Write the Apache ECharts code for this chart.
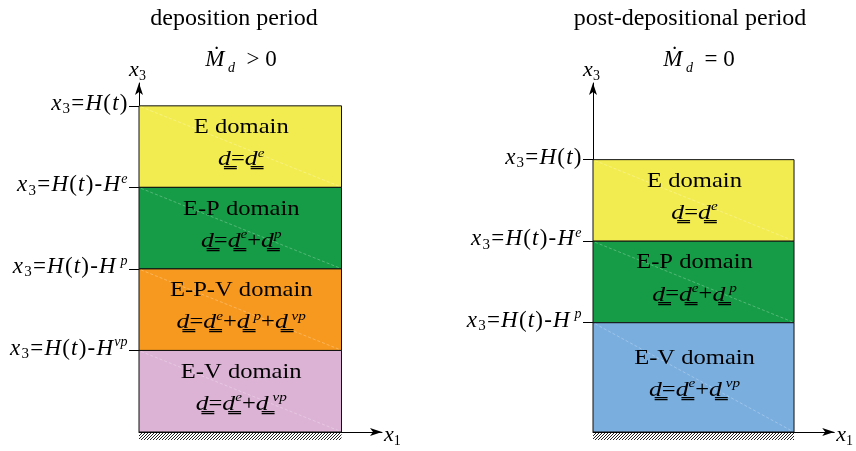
<!DOCTYPE html>
<html><head><meta charset="utf-8">
<script src="https://cdn.jsdelivr.net/npm/echarts@6/dist/echarts.min.js"></script>
<style>html,body{margin:0;padding:0;background:#fff}#c{width:856px;height:451px}</style>
</head><body><div id="c"></div>
<script>
// ---------- data ----------
const panelTitles = ['deposition period', 'post-depositional period'];
const panelRates = ['{i|M\u0307}{sub| d}{n|  > 0}', '{i|M\u0307}{sub| d}{n|  = 0}'];

const leftDomains = ['E domain', 'E-P domain', 'E-P-V domain', 'E-V domain'];
const leftFormulas = [
  '{d|d\u0333}{n|=}{d|d\u0333}{sup|e}',
  '{d|d\u0333}{n|=}{d|d\u0333}{sup|e}{n|+}{d|d\u0333}{sup|p}',
  '{d|d\u0333}{n|=}{d|d\u0333}{sup|e}{n|+}{d|d\u0333}{sup| p}{n|+}{d|d\u0333}{sup| vp}',
  '{d|d\u0333}{n|=}{d|d\u0333}{sup|e}{n|+}{d|d\u0333}{sup| vp}'
];
const leftTops = [4, 3, 2, 1];
const leftBottoms = [3, 2, 1, 0];
const leftTickValues = [4, 3, 2, 1];
const leftTickLabels = [
  '{i|x}{sub|3}{n|=}{i|H}{n|(}{i|t}{n|)}',
  '{i|x}{sub|3}{n|=}{i|H}{n|(}{i|t}{n|)}{n|-}{i|H}{sup|e}',
  '{i|x}{sub|3}{n|=}{i|H}{n|(}{i|t}{n|)}{n|-}{i|H}{sup| p}',
  '{i|x}{sub|3}{n|=}{i|H}{n|(}{i|t}{n|)}{n|-}{i|H}{sup|vp}'
];

const rightDomains = ['E domain', 'E-P domain', 'E-V domain'];
const rightFormulas = [
  '{d|d\u0333}{n|=}{d|d\u0333}{sup|e}',
  '{d|d\u0333}{n|=}{d|d\u0333}{sup|e}{n|+}{d|d\u0333}{sup| p}',
  '{d|d\u0333}{n|=}{d|d\u0333}{sup|e}{n|+}{d|d\u0333}{sup| vp}'
];
const rightTops = [3.34, 2.34, 1.34];
const rightBottoms = [2.34, 1.34, 0];
const rightTickValues = [3.34, 2.34, 1.34];
const rightTickLabels = [
  '{i|x}{sub|3}{n|=}{i|H}{n|(}{i|t}{n|)}',
  '{i|x}{sub|3}{n|=}{i|H}{n|(}{i|t}{n|)}{n|-}{i|H}{sup|e}',
  '{i|x}{sub|3}{n|=}{i|H}{n|(}{i|t}{n|)}{n|-}{i|H}{sup| p}'
];

const domainWidth = [0, 1];
const axisMaxX = 1.2;
const axisMaxY = 4.28;

// ---------- styles ----------
const leftColors = ['#F3EC51', '#169C46', '#F7991F', '#DCB3D5'];
const rightColors = ['#F3EC51', '#169C46', '#7AAEDF'];
const SERIF = 'Liberation Serif';

function makeRich(base, padX) {
  const pad = [0, padX || 0, 0, padX || 0];
  return {
    n: {fontFamily: SERIF, fontSize: base, fontWeight: 'normal', lineHeight: 26, padding: pad, color: '#000'},
    i: {fontFamily: SERIF, fontSize: base, fontStyle: 'italic', fontWeight: 'normal', lineHeight: 26, padding: pad, color: '#000'},
    sub: {fontFamily: SERIF, fontSize: Math.round(base * 0.65), fontWeight: 'normal', lineHeight: 26, verticalAlign: 'bottom', padding: pad, color: '#000'},
    sup: {fontFamily: SERIF, fontSize: Math.round(base * 0.62), fontStyle: 'italic', fontWeight: 'normal', lineHeight: 26, verticalAlign: 'top', padding: pad, color: '#000'},
    d: {fontFamily: SERIF, fontSize: base + 1, fontStyle: 'italic', fontWeight: 'normal', lineHeight: 26, color: '#000'},
    name: {fontFamily: SERIF, fontSize: base, fontWeight: 'normal', lineHeight: 26, color: '#000'}
  };
}
const axisRich = makeRich(23, 0.6);
const domainRich = makeRich(21);
const titleRich = makeRich(23);
titleRich.sub = {fontFamily: SERIF, fontSize: 14, fontStyle: 'italic', fontWeight: 'normal', lineHeight: 30, verticalAlign: 'bottom', color: '#000'};
titleRich.i.lineHeight = 30; titleRich.n.lineHeight = 30;
const nameRich = makeRich(22);

function lookup(values, labels) {
  return function (v) {
    for (let k = 0; k < values.length; k++) {
      if (Math.abs(values[k] - v) < 1e-6) return labels[k];
    }
    return '';
  };
}

function domainSeries(gi, names, formulas, tops, bottoms, colors) {
  return {
    type: 'custom',
    xAxisIndex: gi, yAxisIndex: gi,
    clip: false,
    data: names.map((n, k) => [domainWidth[0], domainWidth[1], bottoms[k], tops[k]]),
    encode: {x: [0, 1], y: [2, 3]},
    renderItem: function (params, api) {
      const k = params.dataIndex;
      const p0 = api.coord([api.value(0), api.value(3)]);
      const p1 = api.coord([api.value(1), api.value(2)]);
      const cx = (p0[0] + p1[0]) / 2 + 1, cy = (p0[1] + p1[1]) / 2;
      return {
        type: 'group',
        children: [
          {type: 'rect', shape: {x: p0[0], y: p0[1], width: p1[0] - p0[0], height: p1[1] - p0[1]},
           style: {fill: colors[k], stroke: '#111', lineWidth: 1}},
          {type: 'line', shape: {x1: p0[0] + 2, y1: p0[1] + 1, x2: p1[0] - 2, y2: p1[1] - 1},
           style: {stroke: 'rgba(255,255,255,0.45)', lineWidth: 0.6, lineDash: [3, 2]}},
          {type: 'text', x: cx, y: cy - 19, scaleX: 1.17,
           style: {text: '{name|' + names[k] + '}', rich: domainRich,
                   fontFamily: SERIF, align: 'center', verticalAlign: 'middle'}},
          {type: 'text', x: cx, y: cy + 13, scaleX: 1.17,
           style: {text: formulas[k], rich: domainRich,
                   fontFamily: SERIF, align: 'center', verticalAlign: 'middle'}}
        ]
      };
    }
  };
}

function groundSeries(gi) {
  return {
    type: 'custom',
    xAxisIndex: gi, yAxisIndex: gi,
    clip: false,
    data: [[domainWidth[0], domainWidth[1]]],
    encode: {x: [0, 1]},
    renderItem: function (params, api) {
      const a = api.coord([api.value(0), 0]);
      const b = api.coord([api.value(1), 0]);
      const y0 = a[1] + 1, h = 7, step = 3;
      const children = [];
      for (let x = a[0] - h; x < b[0]; x += step) {
        let t0 = Math.max(0, a[0] - x), t1 = Math.min(h, b[0] - x);
        if (t1 <= t0) continue;
        children.push({type: 'line', shape: {x1: x + t0, y1: y0 + h - t0, x2: x + t1, y2: y0 + h - t1},
          style: {stroke: '#222', lineWidth: 1}});
      }
      return {type: 'group', children: children};
    }
  };
}

const grids = [
  {left: 139, top: 83, width: 243, height: 349},
  {left: 593, top: 83, width: 243, height: 349}
];

function xAxisOf(gi) {
  return {
    type: 'value', gridIndex: gi, min: 0, max: axisMaxX,
    axisLine: {show: true, lineStyle: {color: '#000', width: 1}, symbol: ['none', 'arrow'], symbolSize: [6, 12]},
    axisTick: {show: false}, axisLabel: {show: false}, splitLine: {show: false},
    name: '{i|x}{sub|1}', nameLocation: 'end', nameGap: 2,
    nameTextStyle: {rich: nameRich, verticalAlign: 'middle', padding: [6, 0, 0, 0]}
  };
}
function yAxisOf(gi, values, labels) {
  return {
    type: 'value', gridIndex: gi, min: 0, max: axisMaxY,
    axisLine: {show: true, lineStyle: {color: '#000', width: 1}, symbol: ['none', 'arrow'], symbolSize: [6, 12]},
    axisTick: {show: true, inside: false, length: 10, customValues: values, lineStyle: {color: '#000'}},
    axisLabel: {show: true, customValues: values, margin: 11, formatter: lookup(values, labels), rich: axisRich,
                padding: [0, 0, 4, 0]},
    splitLine: {show: false},
    name: '{i|x}{sub|3}', nameLocation: 'end', nameGap: 0,
    nameTextStyle: {rich: nameRich, align: 'center', padding: [0, 3, 0, 0]}
  };
}

const chart = echarts.init(document.getElementById('c'), null, {renderer: 'canvas'});
chart.setOption({
  backgroundColor: '#fff',
  animation: false,
  textStyle: {fontFamily: SERIF},
  title: [
    {text: panelTitles[0], left: 229, top: 2, textAlign: 'center',
     textStyle: {fontFamily: SERIF, fontSize: 24, fontWeight: 'normal', color: '#000'}},
    {text: panelRates[0], left: 236, top: 40, textAlign: 'center', textStyle: {rich: titleRich, fontWeight: 'normal'}},
    {text: panelTitles[1], left: 685, top: 2, textAlign: 'center',
     textStyle: {fontFamily: SERIF, fontSize: 24, fontWeight: 'normal', color: '#000'}},
    {text: panelRates[1], left: 694, top: 40, textAlign: 'center', textStyle: {rich: titleRich, fontWeight: 'normal'}}
  ],
  grid: grids,
  xAxis: [xAxisOf(0), xAxisOf(1)],
  yAxis: [yAxisOf(0, leftTickValues, leftTickLabels), yAxisOf(1, rightTickValues, rightTickLabels)],
  series: [
    groundSeries(0),
    groundSeries(1),
    domainSeries(0, leftDomains, leftFormulas, leftTops, leftBottoms, leftColors),
    domainSeries(1, rightDomains, rightFormulas, rightTops, rightBottoms, rightColors)
  ]
});
</script></body></html>
